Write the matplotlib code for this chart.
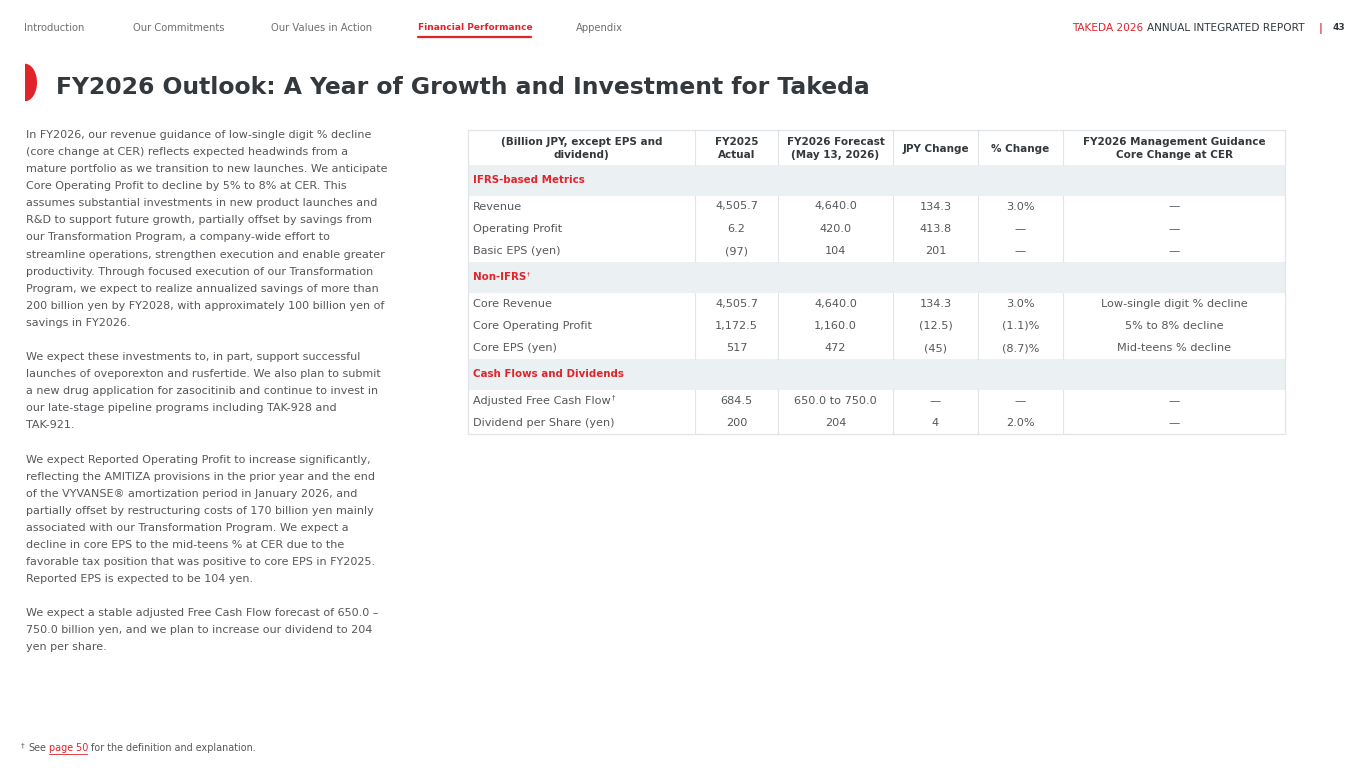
import matplotlib
matplotlib.use("Agg")
import matplotlib.pyplot as plt
from matplotlib.patches import Rectangle, Ellipse

# ---------------------------------------------------------------------------
# Data
# ---------------------------------------------------------------------------
nav_items = ["Introduction", "Our Commitments", "Our Values in Action",
             "Financial Performance", "Appendix"]
active_nav = "Financial Performance"

title = "FY2026 Outlook: A Year of Growth and Investment for Takeda"

header_cols = ["(Billion JPY, except EPS and\ndividend)", "FY2025\nActual",
               "FY2026 Forecast\n(May 13, 2026)", "JPY Change", "% Change",
               "FY2026 Management Guidance\nCore Change at CER"]

sections = ["IFRS-based Metrics", "Non-IFRS\u2020", "Cash Flows and Dividends"]
section_of = [0, 0, 0, 1, 1, 1, 2, 2]

metrics = ["Revenue", "Operating Profit", "Basic EPS (yen)",
           "Core Revenue", "Core Operating Profit", "Core EPS (yen)",
           "Adjusted Free Cash Flow\u2020", "Dividend per Share (yen)"]
fy2025_actual = ["4,505.7", "6.2", "(97)", "4,505.7", "1,172.5", "517", "684.5", "200"]
fy2026_forecast = ["4,640.0", "420.0", "104", "4,640.0", "1,160.0", "472",
                   "650.0 to 750.0", "204"]
jpy_change = ["134.3", "413.8", "201", "134.3", "(12.5)", "(45)", "\u2014", "4"]
pct_change = ["3.0%", "\u2014", "\u2014", "3.0%", "(1.1)%", "(8.7)%", "\u2014", "2.0%"]
guidance = ["\u2014", "\u2014", "\u2014", "Low-single digit % decline",
            "5% to 8% decline", "Mid-teens % decline", "\u2014", "\u2014"]

body_lines = [
    "In FY2026, our revenue guidance of low-single digit % decline",
    "(core change at CER) reflects expected headwinds from a",
    "mature portfolio as we transition to new launches. We anticipate",
    "Core Operating Profit to decline by 5% to 8% at CER. This",
    "assumes substantial investments in new product launches and",
    "R&D to support future growth, partially offset by savings from",
    "our Transformation Program, a company-wide effort to",
    "streamline operations, strengthen execution and enable greater",
    "productivity. Through focused execution of our Transformation",
    "Program, we expect to realize annualized savings of more than",
    "200 billion yen by FY2028, with approximately 100 billion yen of",
    "savings in FY2026.",
    "",
    "We expect these investments to, in part, support successful",
    "launches of oveporexton and rusfertide. We also plan to submit",
    "a new drug application for zasocitinib and continue to invest in",
    "our late-stage pipeline programs including TAK-928 and",
    "TAK-921.",
    "",
    "We expect Reported Operating Profit to increase significantly,",
    "reflecting the AMITIZA provisions in the prior year and the end",
    "of the VYVANSE\u00ae amortization period in January 2026, and",
    "partially offset by restructuring costs of 170 billion yen mainly",
    "associated with our Transformation Program. We expect a",
    "decline in core EPS to the mid-teens % at CER due to the",
    "favorable tax position that was positive to core EPS in FY2025.",
    "Reported EPS is expected to be 104 yen.",
    "",
    "We expect a stable adjusted Free Cash Flow forecast of 650.0 \u2013",
    "750.0 billion yen, and we plan to increase our dividend to 204",
    "yen per share.",
]

# ---------------------------------------------------------------------------
# Styles
# ---------------------------------------------------------------------------
RED = "#e1242a"
DARK = "#33383d"
GREY = "#55585b"
NAV_GREY = "#6d6f72"
BAND = "#ebf0f3"
LINE = "#e2e5e8"

plt.rcParams["font.family"] = ["DejaVu Sans"]

fig = plt.figure(figsize=(13.65, 7.68), dpi=100)
ax = fig.add_axes([0, 0, 1, 1])
ax.set_xlim(0, 1365)
ax.set_ylim(768, 0)
ax.axis("off")
renderer = fig.canvas.get_renderer()


def text_width(t):
    """Width of a text artist in data (pixel) units."""
    bb = t.get_window_extent(renderer=renderer)
    return bb.width


def chain(x, y, pieces, **kw):
    """Place text pieces left to right; returns the end x."""
    for s, style, gap in pieces:
        t = ax.text(x, y, s, ha="left", va="center", **style, **kw)
        x += text_width(t) + gap
    return x


def label_with_dagger(x, y, s, size, **kw):
    """Left-aligned label; a trailing dagger is drawn small and raised."""
    base = s.rstrip("\u2020")
    t = ax.text(x, y, base, ha="left", va="center", fontsize=size, **kw)
    if base != s:
        kw.pop("fontweight", None)
        ax.text(x + text_width(t) + 1, y - 3, "\u2020", ha="left",
                va="center", fontsize=size * 0.6, **kw)


# --- top navigation --------------------------------------------------------
nav_x = [24, 133, 271, 418, 576]
for x, item in zip(nav_x, nav_items):
    active = item == active_nav
    t = ax.text(x, 28, item, fontsize=6.5 if active else 7.2, va="center",
                ha="left", color=RED if active else NAV_GREY,
                fontweight="bold" if active else "normal")
    if active:
        ax.plot([x, x + text_width(t) - 2], [37, 37], color=RED, lw=1.6,
                solid_capstyle="round")

chain(1072, 28, [
    ("TAKEDA 2026", dict(color=RED, fontsize=7.6), 4),
    ("ANNUAL INTEGRATED REPORT", dict(color=DARK, fontsize=7.6), 0),
])
ax.text(1321, 28, "|", fontsize=7.5, ha="center", va="center", color=RED,
        fontweight="bold")
ax.text(1345, 28, "43", fontsize=6.5, ha="right", va="center", color=DARK,
        fontweight="bold")

# --- title -----------------------------------------------------------------
half = Ellipse((25, 82.5), 24, 37.5, facecolor=RED, edgecolor="none")
ax.add_patch(half)
clip = Rectangle((25, 60), 20, 45, transform=ax.transData)
half.set_clip_path(clip)
ax.text(56, 87, title, fontsize=16.9, fontweight="bold", color=DARK,
        va="center", ha="left")

# --- body text -------------------------------------------------------------
for i, line in enumerate(body_lines):
    ax.text(26, 135 + i * 17.08, line, fontsize=8.0, color=GREY,
            va="center", ha="left")

# --- table -----------------------------------------------------------------
x_left, x_right = 468, 1285
col_edges = [x_left, 695, 778, 893, 978, 1063, x_right]
col_centers = [(a + b) / 2 for a, b in zip(col_edges[:-1], col_edges[1:])]

top, header_bottom = 130, 165
band_h, row_h = 30.5, 22.3

# header
for j, label in enumerate(header_cols):
    ax.text(col_centers[j], (top + header_bottom) / 2 + 1, label, fontsize=7.5,
            fontweight="bold", color=DARK, ha="center", va="center",
            linespacing=1.3)
for xe in col_edges[1:-1]:
    ax.plot([xe, xe], [top, header_bottom], color=LINE, lw=0.8)

y = header_bottom
for s, name in enumerate(sections):
    ax.add_patch(Rectangle((x_left, y), x_right - x_left, band_h,
                           facecolor=BAND, edgecolor="none"))
    label_with_dagger(x_left + 5, y + band_h / 2, name, 7.4,
                      fontweight="bold", color=RED)
    y += band_h
    idx = [k for k, sec in enumerate(section_of) if sec == s]
    block_top = y
    for n, k in enumerate(idx):
        cy = y + 11 + n * row_h
        label_with_dagger(x_left + 5, cy, metrics[k], 8.1, color=GREY)
        values = [fy2025_actual[k], fy2026_forecast[k], jpy_change[k],
                  pct_change[k], guidance[k]]
        for j, v in enumerate(values):
            ax.text(col_centers[j + 1], cy, v, fontsize=8.1, color=GREY,
                    ha="center", va="center")
    y = block_top + 22 + (len(idx) - 1) * row_h
    for xe in col_edges[1:-1]:
        ax.plot([xe, xe], [block_top, y], color=LINE, lw=0.8)

ax.add_patch(Rectangle((x_left, top), x_right - x_left, y - top,
                       facecolor="none", edgecolor=LINE, lw=0.9))

# --- footnote --------------------------------------------------------------
ax.text(21, 745, "\u2020", fontsize=5, color=GREY, ha="left", va="center")
x0 = chain(28, 748, [("See", dict(color=GREY), 3)], fontsize=6.9)
x1 = chain(x0, 748, [("page 50", dict(color=RED), 0)], fontsize=6.9)
ax.plot([x0, x1 - 1], [753.5, 753.5], color=RED, lw=0.6)
chain(x1 + 3, 748, [("for the definition and explanation.", dict(color=GREY), 0)],
      fontsize=6.9)

fig.savefig("out.png", dpi=100)
